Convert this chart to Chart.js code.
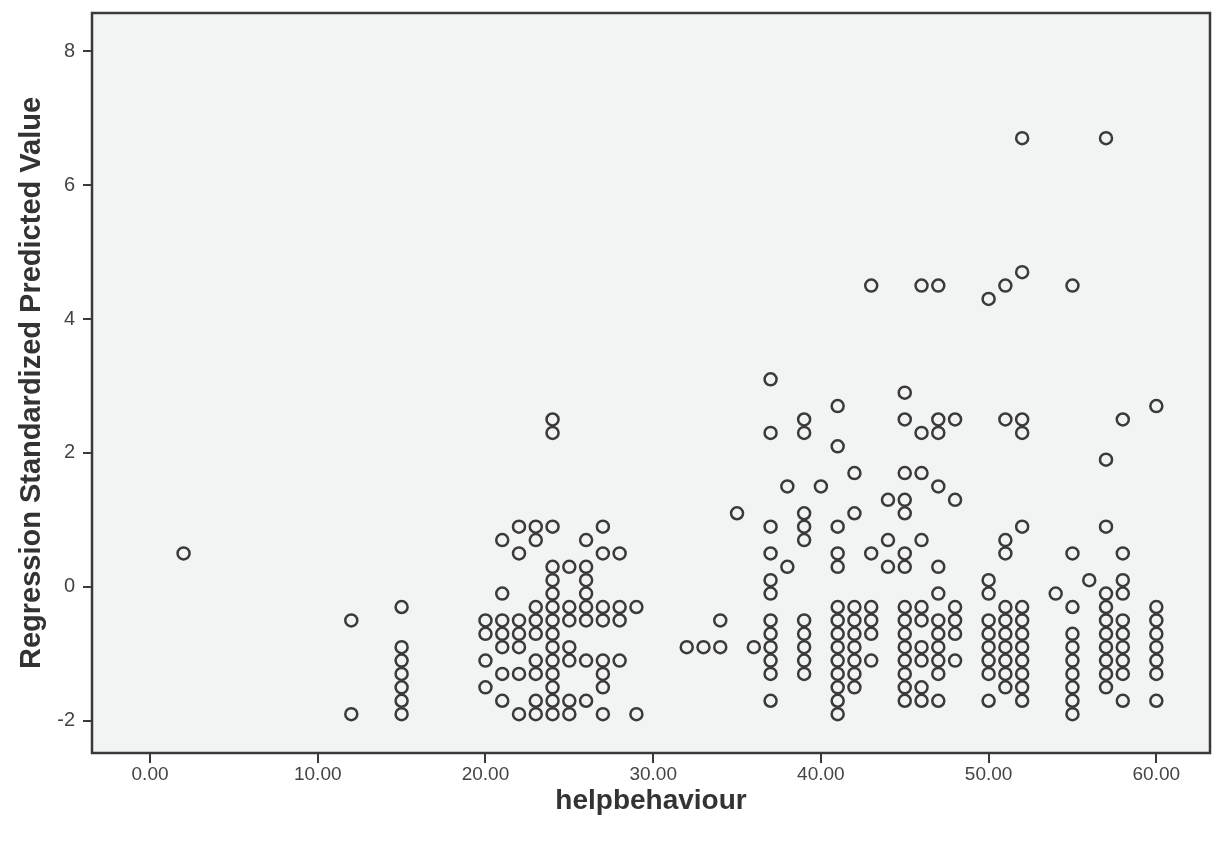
<!DOCTYPE html>
<html>
<head>
<meta charset="utf-8">
<script src="https://cdn.jsdelivr.net/npm/chart.js@4/dist/chart.umd.min.js"></script>
<style>
  html, body { margin: 0; padding: 0; background: #ffffff; }
  #wrap { width: 1221px; height: 860px; }
</style>
</head>
<body>
<div id="wrap"><canvas id="chart" width="1221" height="860"></canvas></div>
<script>
// helpbehaviour scores that occur in the sample
const helpScores = [2, 12, 15, 20, 21, 22, 23, 24, 25, 26, 27, 28, 29, 32, 33, 34, 35, 36,
  37, 38, 39, 40, 41, 42, 43, 44, 45, 46, 47, 48, 50, 51, 52, 54, 55, 56, 57, 58, 60];

// standardized predicted values observed at each score (same order as helpScores)
const predictedValues = [
  [0.5],
  [-0.5, -1.9],
  [-0.3, -0.9, -1.1, -1.3, -1.5, -1.7, -1.9],
  [-0.5, -0.7, -1.1, -1.5],
  [0.7, -0.1, -0.5, -0.7, -0.9, -1.3, -1.7],
  [0.9, 0.5, -0.5, -0.7, -0.9, -1.3, -1.9],
  [0.9, 0.7, -0.3, -0.5, -0.7, -1.1, -1.3, -1.7, -1.9],
  [2.5, 2.3, 0.9, 0.3, 0.1, -0.1, -0.3, -0.5, -0.7, -0.9, -1.1, -1.3, -1.5, -1.7, -1.9],
  [0.3, -0.3, -0.5, -0.9, -1.1, -1.7, -1.9],
  [0.7, 0.3, 0.1, -0.1, -0.3, -0.5, -1.1, -1.7],
  [0.9, 0.5, -0.3, -0.5, -1.1, -1.3, -1.5, -1.9],
  [0.5, -0.3, -0.5, -1.1],
  [-0.3, -1.9],
  [-0.9],
  [-0.9],
  [-0.5, -0.9],
  [1.1],
  [-0.9],
  [3.1, 2.3, 0.9, 0.5, 0.1, -0.1, -0.5, -0.7, -0.9, -1.1, -1.3, -1.7],
  [1.5, 0.3],
  [2.5, 2.3, 1.1, 0.9, 0.7, -0.5, -0.7, -0.9, -1.1, -1.3],
  [1.5],
  [2.7, 2.1, 0.9, 0.5, 0.3, -0.3, -0.5, -0.7, -0.9, -1.1, -1.3, -1.5, -1.7, -1.9],
  [1.7, 1.1, -0.3, -0.5, -0.7, -0.9, -1.1, -1.3, -1.5],
  [4.5, 0.5, -0.3, -0.5, -0.7, -1.1],
  [1.3, 0.7, 0.3],
  [2.9, 2.5, 1.7, 1.3, 1.1, 0.5, 0.3, -0.3, -0.5, -0.7, -0.9, -1.1, -1.3, -1.5, -1.7],
  [4.5, 2.3, 1.7, 0.7, -0.3, -0.5, -0.9, -1.1, -1.5, -1.7],
  [4.5, 2.5, 2.3, 1.5, 0.3, -0.1, -0.5, -0.7, -0.9, -1.1, -1.3, -1.7],
  [2.5, 1.3, -0.3, -0.5, -0.7, -1.1],
  [4.3, 0.1, -0.1, -0.5, -0.7, -0.9, -1.1, -1.3, -1.7],
  [4.5, 2.5, 0.7, 0.5, -0.3, -0.5, -0.7, -0.9, -1.1, -1.3, -1.5],
  [6.7, 4.7, 2.5, 2.3, 0.9, -0.3, -0.5, -0.7, -0.9, -1.1, -1.3, -1.5, -1.7],
  [-0.1],
  [4.5, 0.5, -0.3, -0.7, -0.9, -1.1, -1.3, -1.5, -1.7, -1.9],
  [0.1],
  [6.7, 1.9, 0.9, -0.1, -0.3, -0.5, -0.7, -0.9, -1.1, -1.3, -1.5],
  [2.5, 0.5, 0.1, -0.1, -0.5, -0.7, -0.9, -1.1, -1.3, -1.7],
  [2.7, -0.3, -0.5, -0.7, -0.9, -1.1, -1.3, -1.7]
];

// axis tick positions
const xTickValues = [0, 10, 20, 30, 40, 50, 60];
const yTickValues = [-2, 0, 2, 4, 6, 8];

const points = [];
helpScores.forEach((score, i) => {
  predictedValues[i].forEach(v => points.push({ x: score, y: v }));
});

const INK = '#3a3a3a';
const FONT = 'Liberation Sans, Arial, sans-serif';

// light panel behind the plotting area and a closed frame around it
const framePlugin = {
  id: 'frame',
  beforeDraw(chart) {
    const { ctx, chartArea: a } = chart;
    ctx.save();
    ctx.fillStyle = '#f2f3f3';
    ctx.fillRect(a.left, a.top, a.right - a.left, a.bottom - a.top);
    ctx.restore();
  },
  afterDraw(chart) {
    const { ctx, chartArea: a } = chart;
    ctx.save();
    ctx.strokeStyle = INK;
    ctx.lineWidth = 2.5;
    ctx.strokeRect(a.left, a.top, a.right - a.left, a.bottom - a.top);
    ctx.restore();
  }
};

new Chart(document.getElementById('chart'), {
  type: 'scatter',
  data: {
    datasets: [{
      data: points,
      pointStyle: 'circle',
      pointRadius: 6,
      pointBorderWidth: 2.5,
      pointBorderColor: '#3a3a3a',
      pointBackgroundColor: 'rgba(0,0,0,0)'
    }]
  },
  options: {
    responsive: false,
    animation: false,
    layout: { padding: { left: 0, top: 13, right: 11, bottom: 0 } },
    plugins: { legend: { display: false }, tooltip: { enabled: false } },
    scales: {
      x: {
        type: 'linear',
        min: -3.46,
        max: 63.2,
        afterBuildTicks(scale) { scale.ticks = xTickValues.map(v => ({ value: v })); },
        afterFit(scale) { scale.height = 107; scale.paddingLeft = 0; scale.paddingRight = 0; },
        grid: { drawOnChartArea: false, drawTicks: true, tickLength: 10, color: INK, lineWidth: 2 },
        border: { display: false },
        ticks: {
          padding: 0,
          color: '#444',
          font: { family: FONT, size: 19 },
          callback: v => Number(v).toFixed(2),
          maxRotation: 0
        },
        title: {
          display: true,
          text: 'helpbehaviour',
          color: '#333',
          font: { family: FONT, size: 28, weight: 'bold' },
          padding: { top: 0, bottom: 42 }
        }
      },
      y: {
        type: 'linear',
        min: -2.48,
        max: 8.57,
        afterBuildTicks(scale) { scale.ticks = yTickValues.map(v => ({ value: v })); },
        afterFit(scale) { scale.width = 92; scale.paddingTop = 0; scale.paddingBottom = 0; },
        grid: { drawOnChartArea: false, drawTicks: true, tickLength: 9, color: INK, lineWidth: 2 },
        border: { display: false },
        ticks: {
          padding: 8,
          color: '#444',
          font: { family: FONT, size: 20 },
          callback: v => String(v)
        },
        title: {
          display: true,
          text: 'Regression Standardized Predicted Value',
          color: '#333',
          font: { family: FONT, size: 29, weight: 'bold' },
          padding: { top: 15, bottom: 0 }
        }
      }
    }
  },
  plugins: [framePlugin]
});
</script>
</body>
</html>
